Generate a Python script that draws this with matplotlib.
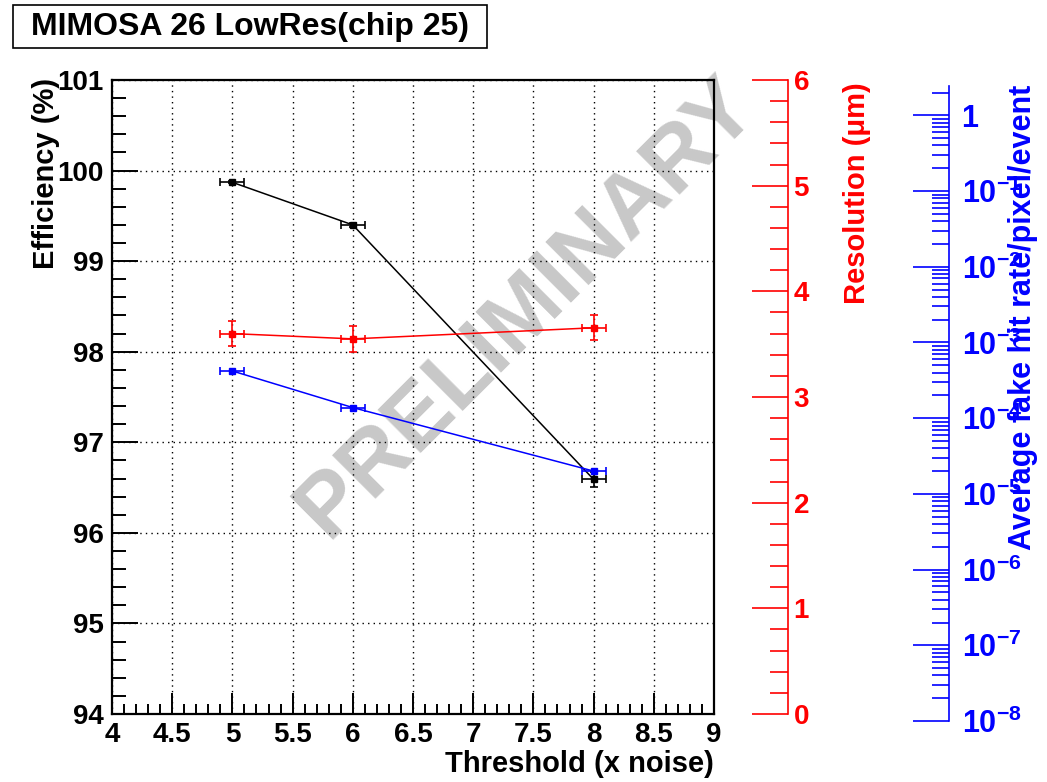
import math
import matplotlib
matplotlib.use("Agg")
import matplotlib.pyplot as plt
from matplotlib.patches import Rectangle
from matplotlib.ticker import MultipleLocator, FuncFormatter, LogLocator, NullFormatter

plt.rcParams['font.family'] = ['Liberation Sans', 'DejaVu Sans']
plt.rcParams['font.weight'] = 'bold'
plt.rcParams['axes.labelweight'] = 'bold'
plt.rcParams['mathtext.fontset'] = 'custom'
plt.rcParams['mathtext.rm'] = 'Liberation Sans:bold'
plt.rcParams['mathtext.bf'] = 'Liberation Sans:bold'

# threshold settings (x noise)
threshold = [5, 6, 8]
threshold_err = [0.1, 0.1, 0.1]

# detection efficiency in %
efficiency = [99.87, 99.40, 96.59]
efficiency_err = [0.01, 0.02, 0.08]

# spatial resolution in um
resolution = [3.60, 3.55, 3.655]
resolution_err = [0.12, 0.12, 0.12]

# fake hit rate per pixel per event
fake_rate = [4.2e-4, 1.38e-4, 2.0e-5]

W, H = 1047, 782
fig = plt.figure(figsize=(W / 100, H / 100), dpi=100)
fig.patch.set_facecolor('white')


def px(x0, y0, x1, y1):
    return [x0 / W, 1 - y1 / H, (x1 - x0) / W, (y1 - y0) / H]


ax = fig.add_axes(px(112, 80, 714, 714))
ax.set_xlim(4, 9)
ax.set_ylim(94, 101)
for s in ax.spines.values():
    s.set_linewidth(1.6)
ax.xaxis.set_major_locator(MultipleLocator(0.5))
ax.xaxis.set_minor_locator(MultipleLocator(0.1))
ax.yaxis.set_major_locator(MultipleLocator(1))
ax.yaxis.set_minor_locator(MultipleLocator(0.2))
ax.xaxis.set_major_formatter(FuncFormatter(lambda v, p: '%g' % v))
ax.yaxis.set_major_formatter(FuncFormatter(lambda v, p: '%g' % v))
ax.tick_params(which='both', direction='in', labelsize=20, width=1.4)
ax.tick_params(axis='x', which='major', length=15, pad=6)
ax.tick_params(axis='x', which='minor', length=7)
ax.tick_params(axis='y', which='major', length=19, pad=6)
ax.tick_params(axis='y', which='minor', length=10)
ax.grid(True, which='major', color='black', linestyle=(0, (1, 3)), linewidth=1.0)

ax.text(527 / W, 1 - 308 / H, 'PRELIMINARY', transform=fig.transFigure,
        rotation=45, rotation_mode='anchor', ha='center', va='center',
        fontsize=64, color='#c8c8c8', zorder=1.0)

ax.errorbar(threshold, efficiency, xerr=threshold_err, yerr=efficiency_err,
            color='black', marker='s', markersize=5, linewidth=1.1,
            elinewidth=1.2, capsize=3, capthick=1.2, zorder=3)

ax.set_xlabel('Threshold (x noise)', fontsize=21, fontweight='bold')
ax.xaxis.set_label_coords(1.0, -0.056)
ax.xaxis.label.set_ha('right')

# resolution axis
rax = ax.twinx()
rax.set_ylim(0, 6)
for k, s in rax.spines.items():
    s.set_visible(k == 'right')
rax.spines['right'].set_position(('axes', 676 / 602))
rax.spines['right'].set_color('red')
rax.spines['right'].set_linewidth(1.2)
rax.yaxis.set_major_locator(MultipleLocator(1))
rax.yaxis.set_minor_locator(MultipleLocator(0.2))
rax.tick_params(which='both', direction='in', colors='red', labelsize=20,
                width=1.2, pad=4)
rax.tick_params(which='major', length=26)
rax.tick_params(which='minor', length=13)
rax.errorbar(threshold, resolution, xerr=threshold_err, yerr=resolution_err,
             color='red', marker='s', markersize=5, linewidth=1.1,
             elinewidth=1.2, capsize=3, capthick=1.2, zorder=3)

# fake hit rate axis (log)
bax = fig.add_axes(px(112, 86, 714, 721))
bax.patch.set_visible(False)
bax.set_xlim(4, 9)
bax.set_yscale('log')
bax.set_ylim(1e-8, 2.44)
for k, s in bax.spines.items():
    s.set_visible(k == 'right')
bax.spines['right'].set_position(('axes', 837 / 602))
bax.spines['right'].set_color('blue')
bax.spines['right'].set_linewidth(1.2)
bax.xaxis.set_visible(False)
bax.yaxis.tick_right()
bax.yaxis.set_major_locator(LogLocator(base=10, numticks=20))
bax.yaxis.set_minor_locator(LogLocator(base=10, subs=range(2, 10), numticks=20))
bax.yaxis.set_minor_formatter(NullFormatter())


def log_label(v, p):
    e = int(round(math.log10(v)))
    if e == 0:
        return '1'
    return r'$\mathbf{10^{%d}}$' % e


bax.yaxis.set_major_formatter(FuncFormatter(log_label))
bax.tick_params(which='both', direction='in', colors='blue', labelsize=22,
                width=1.2, pad=9)
bax.tick_params(which='major', length=26)
bax.tick_params(which='minor', length=12)
bax.errorbar(threshold, fake_rate, xerr=threshold_err,
             color='blue', marker='s', markersize=5, linewidth=1.1,
             elinewidth=1.2, capsize=3, capthick=1.2, zorder=3)

# axis titles
fig.text(46 / W, 1 - 78 / H, 'Efficiency (%)', rotation=90, ha='center',
         va='top', fontsize=21)
fig.text(857 / W, 1 - 82 / H, 'Resolution (μm)', rotation=90, ha='center',
         va='top', fontsize=21, color='red')
fig.text(1023 / W, 1 - 85 / H, 'Average fake hit rate/pixel/event',
         rotation=90, ha='center', va='top', fontsize=22, color='blue')

# title box
fig.patches.append(Rectangle((13 / W, 1 - 48 / H), 474 / W, 43 / H,
                             transform=fig.transFigure, facecolor='white',
                             edgecolor='black', linewidth=1.2))
fig.text(250 / W, 1 - 26.5 / H, 'MIMOSA 26 LowRes(chip 25)', ha='center',
         va='center', fontsize=23)

fig.savefig('out.png', dpi=100)
